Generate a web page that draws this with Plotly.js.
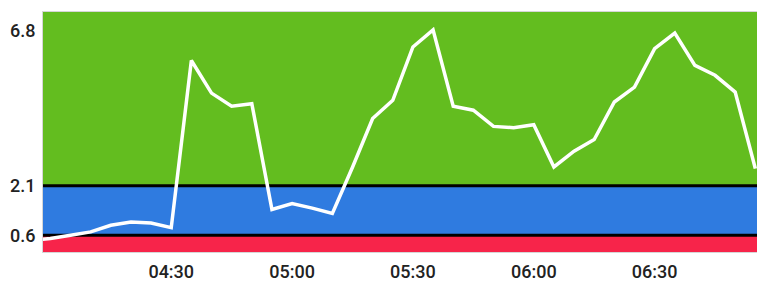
<!DOCTYPE html>
<html>
<head>
<meta charset="utf-8">
<script src="https://cdn.plot.ly/plotly-3.0.1.min.js"></script>
<style>html,body{margin:0;padding:0;background:#fff;}#chart{width:757px;height:283px;}</style>
</head>
<body>
<div id="chart"></div>
<script>
// Data
var times = ['03:55','04:00','04:05','04:10','04:15','04:20','04:25','04:30','04:35','04:40','04:45','04:50','04:55',
             '05:00','05:05','05:10','05:15','05:20','05:25','05:30','05:35','05:40','05:45','05:50','05:55',
             '06:00','06:05','06:10','06:15','06:20','06:25','06:30','06:35','06:40','06:45','06:50','06:55'];
var values = [0.44,0.50,0.60,0.70,0.90,1.00,0.97,0.83,5.90,4.91,4.51,4.59,1.38,
              1.56,1.42,1.26,2.66,4.14,4.69,6.31,6.83,4.51,4.39,3.90,3.86,
              3.95,2.67,3.15,3.50,4.64,5.09,6.26,6.73,5.75,5.45,4.94,2.62];
var thresholds = [0.6, 2.1];
var yTickVals = [0.6, 2.1, 6.8];
var yTickText = ['0.6', '2.1', '6.8'];
var xTickVals = ['04:30','05:00','05:30','06:00','06:30'];

var day = '2024-01-01 ';
var xs = times.map(function(t){return day + t;});
var xRange = [day + '03:58:10', day + '06:55:25'];
var yRange = [0.09, 7.37];

var bandColors = ['#f7244a', '#2f7be0', '#63bd1f'];
var edges = [yRange[0]].concat(thresholds).concat([yRange[1]]);
var shapes = [];
for (var i = 0; i < bandColors.length; i++) {
  shapes.push({type:'rect', layer:'below', xref:'paper', yref:'y', x0:0, x1:1,
    y0:edges[i], y1:edges[i+1], fillcolor:bandColors[i], line:{width:0}});
}
thresholds.forEach(function(t){
  shapes.push({type:'line', layer:'below', xref:'paper', yref:'y', x0:0, x1:1, y0:t, y1:t,
    line:{color:'#000', width:3}});
});

var trace = {x: xs, y: values, type:'scatter', mode:'lines',
  line:{color:'#ffffff', width:3.5}, hoverinfo:'skip'};

var layout = {
  width:757, height:283,
  margin:{l:43, r:0, t:12, b:31, pad:0},
  paper_bgcolor:'#fff', plot_bgcolor:'#fff',
  showlegend:false,
  shapes: shapes,
  font:{family:'Roboto, sans-serif', color:'#222'},
  xaxis:{type:'date', range:xRange, tickvals:xTickVals.map(function(t){return day+t;}),
    ticktext:xTickVals, showgrid:false, zeroline:false, ticks:'',
    tickfont:{size:18, color:'#222', weight:500}, showline:true, linecolor:'#d6d6d6', linewidth:1, mirror:true,
    ticklabelstandoff:3},
  yaxis:{range:yRange, tickvals:yTickVals, ticktext:yTickText, showgrid:false, zeroline:false, ticks:'',
    tickfont:{size:18, color:'#222', weight:500}, showline:true, linecolor:'#d6d6d6', linewidth:1, mirror:true,
    ticklabelstandoff:3}
};
Plotly.newPlot('chart', [trace], layout, {staticPlot:true, displayModeBar:false});
</script>
</body>
</html>
